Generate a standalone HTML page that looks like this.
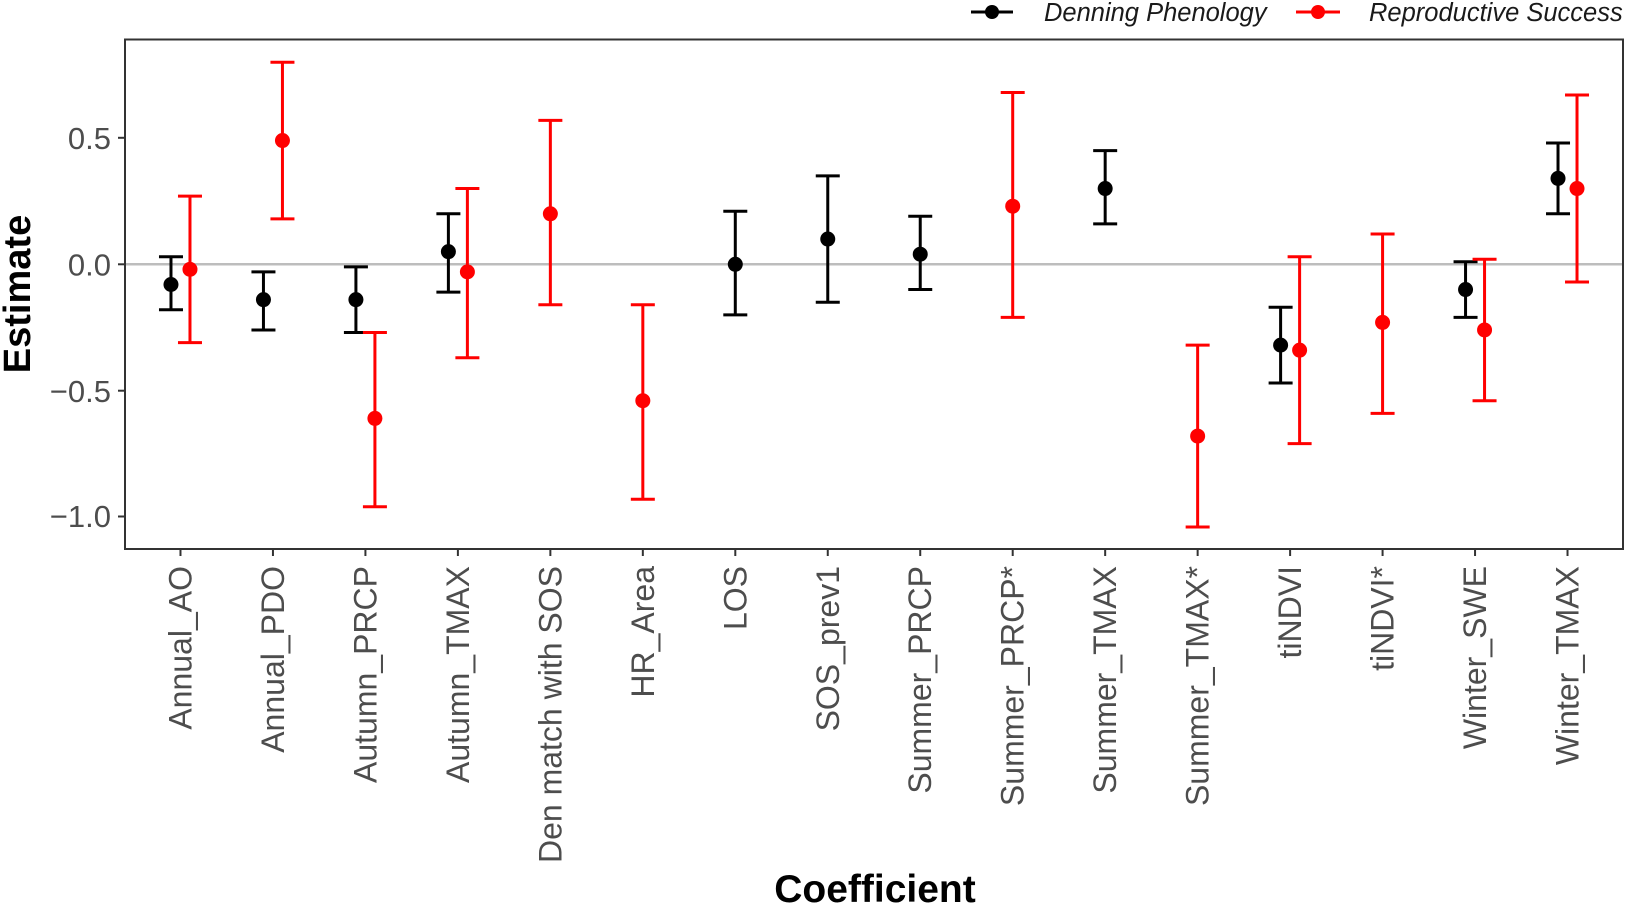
<!DOCTYPE html>
<html><head><meta charset="utf-8"><style>
html,body{margin:0;padding:0;background:#fff;}
svg{display:block;font-family:"Liberation Sans",Arial,sans-serif;}
</style></head><body>
<svg id="s" width="1625" height="905" viewBox="0 0 1625 905" xmlns="http://www.w3.org/2000/svg">
<rect width="1625" height="905" fill="#fff"/>
<line x1="125" x2="1623" y1="264.3" y2="264.3" stroke="#bdbdbd" stroke-width="2.5"/>
<g id="d"></g>
<rect x="125" y="39.5" width="1498" height="509.5" fill="none" stroke="#333" stroke-width="2"/>
<g font-size="31" fill="#4d4d4d" text-anchor="end">
<text x="111" y="149">0.5</text><text x="111" y="275.5">0.0</text>
<text x="111" y="402">−0.5</text><text x="111" y="527">−1.0</text>
</g>
<g stroke="#333" stroke-width="2">
<line x1="118" x2="125" y1="137.8" y2="137.8"/><line x1="118" x2="125" y1="264.3" y2="264.3"/>
<line x1="118" x2="125" y1="390.7" y2="390.7"/><line x1="118" x2="125" y1="516.5" y2="516.5"/>
</g>
<text transform="translate(30,294) rotate(-90)" font-size="38" font-weight="bold" text-anchor="middle" fill="#000">Estimate</text>
<text x="875" y="902" font-size="39" font-weight="bold" text-anchor="middle" fill="#000">Coefficient</text>
<g font-size="25.5" font-style="italic" fill="#1a1a1a">
<line x1="971" x2="1013" y1="12" y2="12" stroke="#000" stroke-width="3"/><circle cx="992" cy="12" r="7" fill="#000"/>
<text x="1044" y="21">Denning Phenology</text>
<line x1="1296" x2="1340" y1="12" y2="12" stroke="#f00" stroke-width="3"/><circle cx="1318" cy="12" r="7" fill="#f00"/>
<text x="1369" y="21">Reproductive Success</text>
</g>
</svg>
<script>
var cats=["Annual_AO","Annual_PDO","Autumn_PRCP","Autumn_TMAX","Den match with SOS","HR_Area","LOS","SOS_prev1","Summer_PRCP","Summer_PRCP*","Summer_TMAX","Summer_TMAX*","tiNDVI","tiNDVI*","Winter_SWE","Winter_TMAX"];
var B=[[-0.08,-0.18,0.03],[-0.14,-0.26,-0.03],[-0.14,-0.27,-0.01],[0.05,-0.11,0.20],null,null,[0.0,-0.2,0.21],[0.1,-0.15,0.35],[0.04,-0.1,0.19],null,[0.30,0.16,0.45],null,[-0.32,-0.47,-0.17],null,[-0.1,-0.21,0.01],[0.34,0.20,0.48]];
var R=[[-0.02,-0.31,0.27],[0.49,0.18,0.80],[-0.61,-0.96,-0.27],[-0.03,-0.37,0.30],[0.20,-0.16,0.57],[-0.54,-0.93,-0.16],null,null,null,[0.23,-0.21,0.68],null,[-0.68,-1.04,-0.32],[-0.34,-0.71,0.03],[-0.23,-0.59,0.12],[-0.26,-0.54,0.02],[0.30,-0.07,0.67]];
function Y(v){return 264.3-v*252.6;}
var h="",step=1498/16.2;
function eb(x,d,c){return '<line x1="'+x+'" x2="'+x+'" y1="'+Y(d[1])+'" y2="'+Y(d[2])+'" stroke="'+c+'" stroke-width="3"/>'+
'<line x1="'+(x-12)+'" x2="'+(x+12)+'" y1="'+Y(d[1])+'" y2="'+Y(d[1])+'" stroke="'+c+'" stroke-width="3"/>'+
'<line x1="'+(x-12)+'" x2="'+(x+12)+'" y1="'+Y(d[2])+'" y2="'+Y(d[2])+'" stroke="'+c+'" stroke-width="3"/>'+
'<circle cx="'+x+'" cy="'+Y(d[0])+'" r="7.5" fill="'+c+'"/>';}
for(var i=0;i<16;i++){var x=125+(0.6+i)*step;
 var both=B[i]&&R[i];
 if(B[i])h+=eb(both?x-9.5:x,B[i],"#000");
 if(R[i])h+=eb(both?x+9.5:x,R[i],"#f00");
 h+='<line x1="'+x+'" x2="'+x+'" y1="549" y2="556" stroke="#333" stroke-width="2"/>';
 h+='<text transform="translate('+(x+11)+',566) rotate(-90)" font-size="32" fill="#4d4d4d" text-anchor="end">'+cats[i]+'</text>';
}
document.getElementById("d").innerHTML=h;
</script>
</body></html>
